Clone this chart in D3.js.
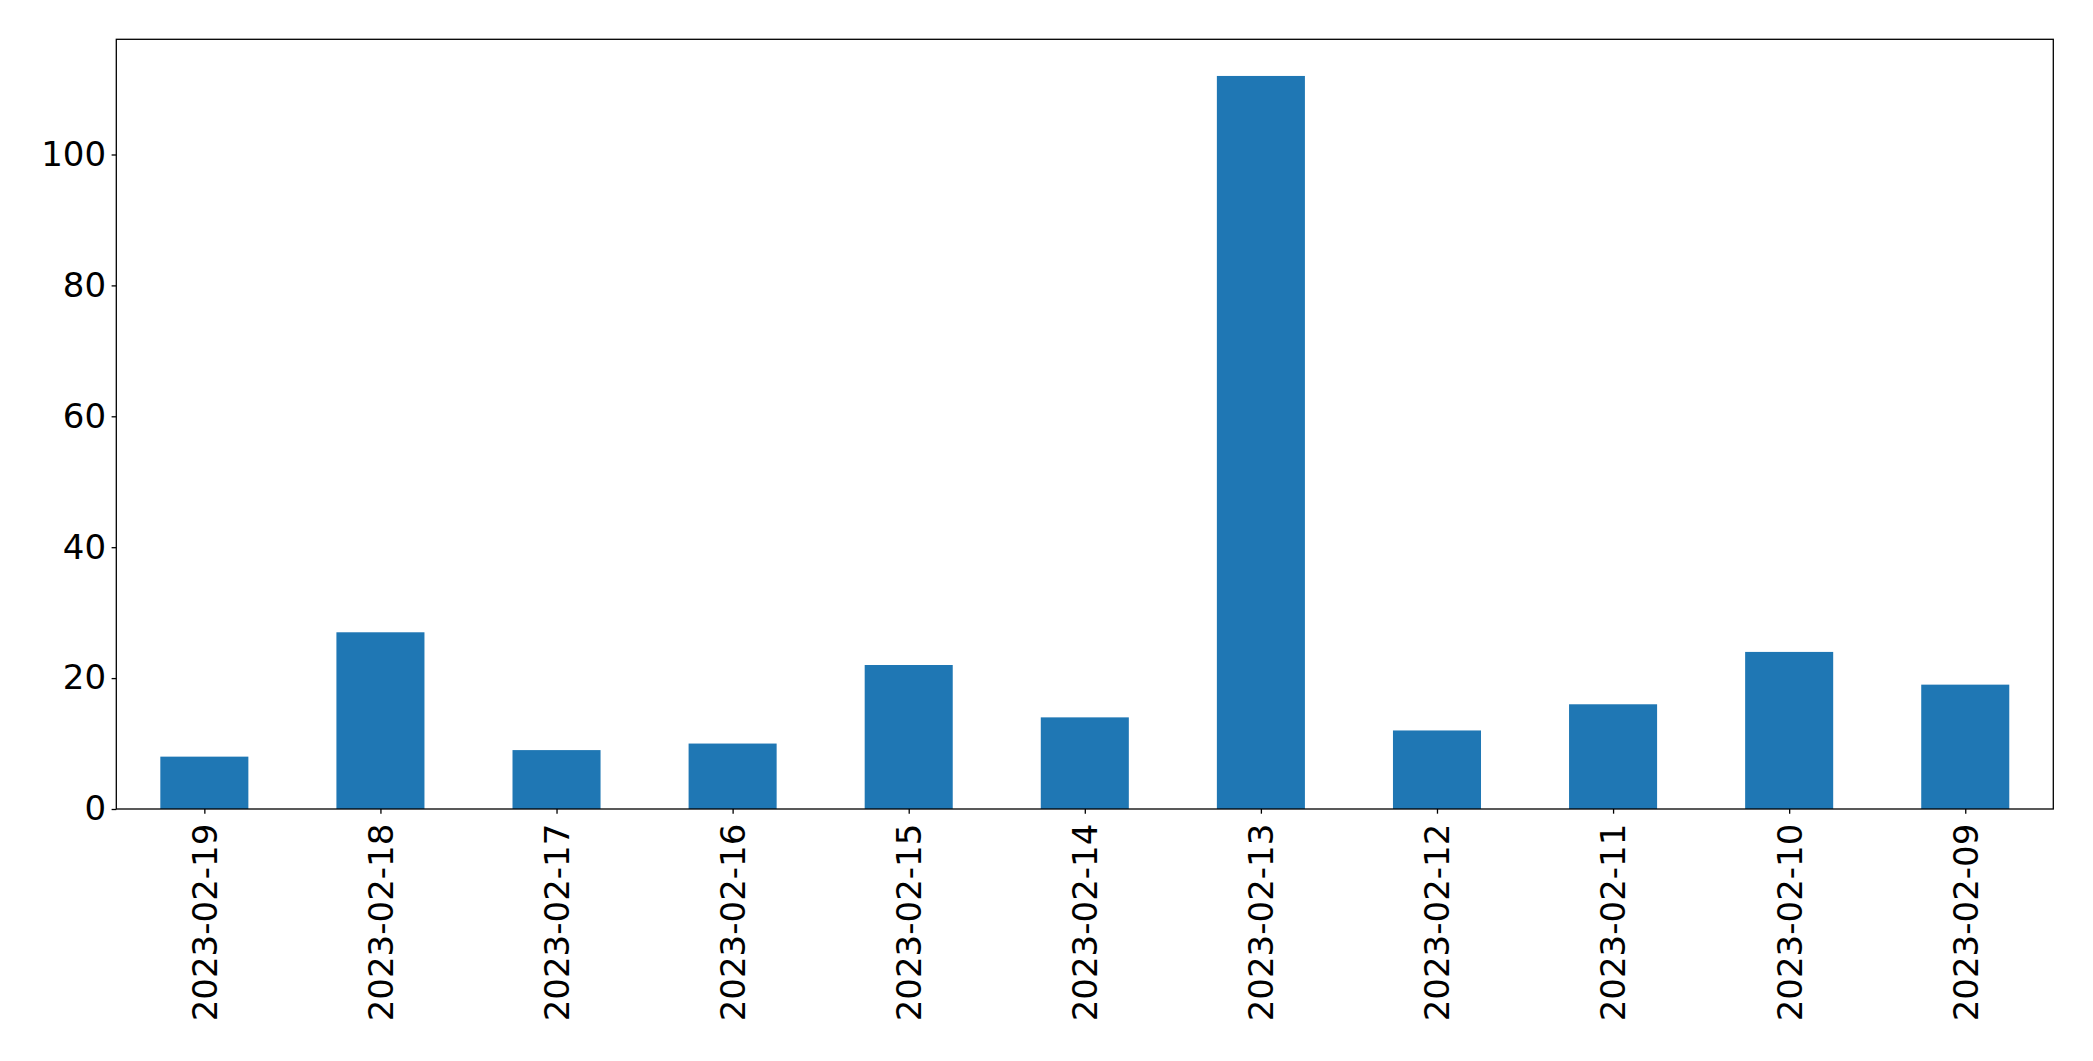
<!DOCTYPE html>
<html>
<head>
<meta charset="utf-8">
<script src="https://cdn.jsdelivr.net/npm/d3@7"></script>
<style>
  body { margin: 0; background: #fff; }
  svg { display: block; }
</style>
</head>
<body>
<script>
// dates, in the order they appear along the x axis
const dates = ['2023-02-19', '2023-02-18', '2023-02-17', '2023-02-16', '2023-02-15',
    '2023-02-14', '2023-02-13', '2023-02-12', '2023-02-11', '2023-02-10', '2023-02-09'];
const counts = [8, 27, 9, 10, 22, 14, 112, 12, 16, 24, 19];
const yTicks = [0, 20, 40, 60, 80, 100];

const W = 2093, H = 1061;
const margin = {top: 39.3, right: 2093 - 2053.3, bottom: 1061 - 809, left: 116.3};
const width = W - margin.left - margin.right,
    height = H - margin.top - margin.bottom;

const svg = d3.select('body').append('svg')
    .attr('width', W)
    .attr('height', H);

const g = svg.append('g')
    .attr('transform', `translate(${margin.left},${margin.top})`);

// bars sit at integer positions, width 0.5, like pandas .plot.bar()
const x = d3.scaleLinear()
    .domain([-0.5, dates.length - 0.5])
    .range([0, width]);

const y = d3.scaleLinear()
    .domain([0, d3.max(counts) * 1.05])
    .range([height, 0]);

g.selectAll('rect.bar')
    .data(counts)
    .join('rect')
    .attr('class', 'bar')
    .attr('x', (d, i) => x(i - 0.25))
    .attr('width', x(0.5) - x(0))
    .attr('y', d => y(d))
    .attr('height', d => y(0) - y(d))
    .attr('fill', '#1f77b4');

const font = 'DejaVu Sans, sans-serif';
const tickLen = 4.7;

// y axis
const yAxis = g.append('g')
    .call(d3.axisLeft(y).tickValues(yTicks).tickSize(tickLen).tickPadding(5.5).tickFormat(d3.format('d')));
yAxis.select('.domain').remove();
yAxis.selectAll('line').attr('stroke', '#000').attr('stroke-width', 1.3);
yAxis.selectAll('text')
    .style('font-family', font)
    .style('font-size', '34px')
    .attr('fill', '#000');

// x axis
const xAxis = g.append('g')
    .attr('transform', `translate(0,${height})`)
    .call(d3.axisBottom(x).tickValues(d3.range(dates.length)).tickSize(tickLen).tickFormat(i => dates[i]));
xAxis.select('.domain').remove();
xAxis.selectAll('line').attr('stroke', '#000').attr('stroke-width', 1.3);
xAxis.selectAll('text')
    .style('font-family', font)
    .style('font-size', '34px')
    .attr('fill', '#000')
    .attr('transform', 'rotate(-90)')
    .attr('x', -(tickLen + 10))
    .attr('y', 0)
    .attr('dy', '0.35em')
    .attr('text-anchor', 'end');

// frame
g.append('rect')
    .attr('width', width)
    .attr('height', height)
    .attr('fill', 'none')
    .attr('stroke', '#000')
    .attr('stroke-width', 1.3);
</script>
</body>
</html>
